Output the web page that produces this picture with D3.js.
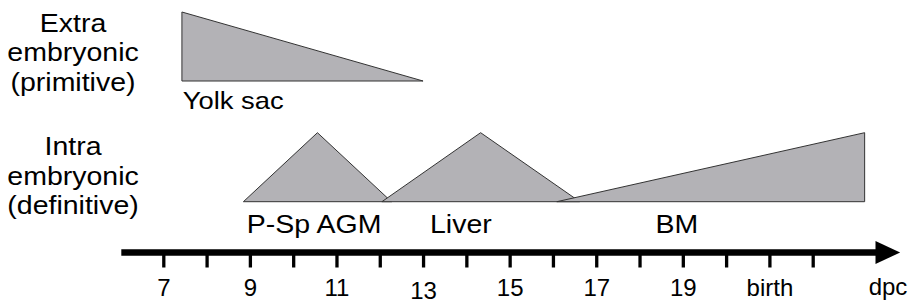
<!DOCTYPE html>
<html>
<head>
<meta charset="utf-8">
<script src="https://cdn.jsdelivr.net/npm/d3@7"></script>
<style>
  body { margin: 0; background: #fff; }
  svg text { font-family: Arial, "Liberation Sans", sans-serif; fill: #000; }
</style>
</head>
<body>
<div id="chart"></div>
<script>
// hematopoietic sites over development (dpc), relative activity 0..1
const siteNames = ['Yolk sac', 'P-Sp AGM', 'Liver', 'BM'];
const siteRows = ['extra', 'intra', 'intra', 'intra'];
const sitePoints = [
  [[7.43, 0], [7.43, 1], [13.0, 0]],
  [[8.85, 0], [10.56, 1], [12.27, 0]],
  [[12.05, 0], [14.33, 1], [16.62, 0]],
  [[16.09, 0], [23.2, 1], [23.2, 0]]
];
// day where each site's label sits
const siteLabelDays = [7.45, 8.93, 13.16, 18.86];
const siteLabelAnchor = ['start', 'start', 'start', 'middle'];

const rowNames = ['extra', 'intra'];
const rowLabels = [
  ['Extra', 'embryonic', '(primitive)'],
  ['Intra', 'embryonic', '(definitive)']
];

const tickDays = [7, 8, 9, 10, 11, 12, 13, 14, 15, 16, 17, 18, 19, 20, 21, 22];
const tickLabels = {7: '7', 9: '9', 11: '11', 13: '13', 15: '15', 17: '17', 19: '19', 21: 'birth'};

const W = 918, H = 306;
const STRETCH = 1.14; // the source font is a bit wider than Arial

const svg = d3.select('#chart')
  .append('svg')
  .attr('width', W)
  .attr('height', H);

const x = d3.scaleLinear()
  .domain([7, 22])
  .range([163.3, 812.7]);

// one band per row, triangle height inside it
const rowBase = d3.scaleOrdinal()
  .domain(rowNames)
  .range([81, 201.7]);
const level = d3.scaleLinear().domain([0, 1]).range([0, -69]);

const line = d3.line();

/* places a text at (px, py), widened horizontally */
function wideText(sel, px, py){
  sel.attr('x', 0).attr('y', 0)
    .attr('transform', (d, i) => `translate(${px(d, i)},${py(d, i)}) scale(${STRETCH},1)`);
}

const sites = siteNames.map((name, i) => ({
  name, row: siteRows[i], pts: sitePoints[i], labelDay: siteLabelDays[i], anchor: siteLabelAnchor[i]
}));

svg.append('g')
  .selectAll('path')
  .data(sites)
  .enter().append('path')
  .attr('d', d => line(d.pts.map(p => [x(p[0]), rowBase(d.row) + level(p[1])])) + 'Z')
  .attr('fill', '#b3b2b6')
  .attr('stroke', '#333')
  .attr('stroke-width', 1)
  .attr('stroke-linejoin', 'miter');

svg.append('g')
  .selectAll('text')
  .data(sites)
  .enter().append('text')
  .attr('text-anchor', d => d.anchor)
  .style('font-size', d => d.row === 'extra' ? '24px' : '25px')
  .text(d => d.name)
  .call(wideText, d => x(d.labelDay), d => rowBase(d.row) + (d.row === 'extra' ? 27.5 : 31.6));

// row captions on the left
rowNames.forEach((r, i) => {
  svg.append('g')
    .selectAll('text')
    .data(rowLabels[i])
    .enter().append('text')
    .attr('text-anchor', 'middle')
    .style('font-size', '25px')
    .text(d => d)
    .call(wideText, () => 73, (d, j) => (i === 0 ? 31.5 : 155) + j * 29.5);
});

// time axis with arrow
const axisY = 252.5;
const axisStart = 6.03, arrowBase = 23.45, arrowTip = 24.02;

svg.append('line')
  .attr('x1', x(axisStart))
  .attr('x2', x(arrowBase) + 2)
  .attr('y1', axisY)
  .attr('y2', axisY)
  .attr('stroke', '#000')
  .attr('stroke-width', 6.5);

svg.append('path')
  .attr('d', line([[x(arrowBase), axisY - 11.5], [x(arrowTip), axisY], [x(arrowBase), axisY + 11.5]]) + 'Z')
  .attr('fill', '#000');

const axis = d3.axisBottom(x)
  .tickValues(tickDays)
  .tickSize(13)
  .tickPadding(12)
  .tickFormat(d => tickLabels[d] || '');

const axisG = svg.append('g')
  .attr('transform', `translate(0,${axisY + 2})`)
  .call(axis);

axisG.select('.domain').remove();
axisG.selectAll('.tick line')
  .attr('stroke', '#000')
  .attr('stroke-width', 3.3);
axisG.selectAll('.tick text')
  .attr('font-family', null)
  .style('font-size', '24px')
  .attr('dy', null)
  .attr('y', 41)
  .filter(d => d === 13)
  .attr('y', 44.5);

svg.append('text')
  .attr('x', x(23.74))
  .attr('y', 295)
  .attr('text-anchor', 'middle')
  .style('font-size', '24px')
  .text('dpc');
</script>
</body>
</html>
